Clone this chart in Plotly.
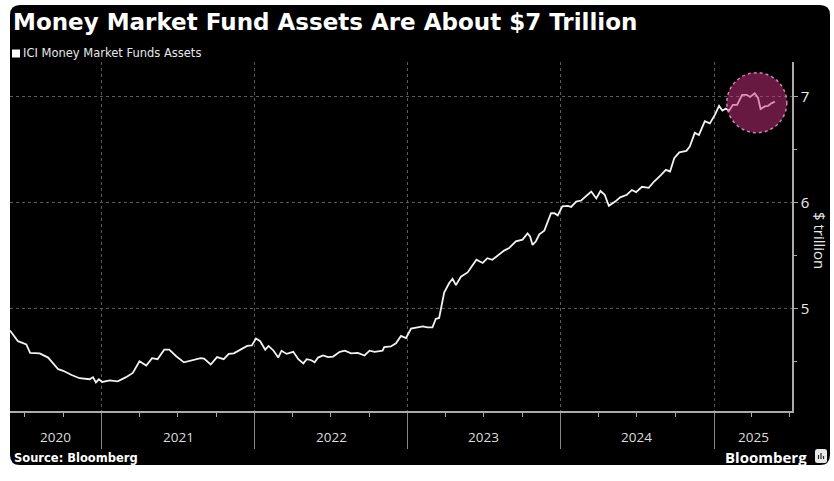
import plotly.graph_objects as go

# ---------------- data ----------------
dates = [
    "2020-05-27", "2020-06-15", "2020-07-05", "2020-07-14", "2020-08-06", "2020-08-26",
    "2020-09-19", "2020-10-01", "2020-10-21", "2020-11-09", "2020-12-03", "2020-12-11",
    "2020-12-18", "2020-12-25", "2021-01-02", "2021-01-20", "2021-02-08", "2021-02-28",
    "2021-03-16", "2021-04-01", "2021-04-17", "2021-05-01", "2021-05-14", "2021-05-30",
    "2021-06-11", "2021-06-27", "2021-07-16", "2021-08-05", "2021-08-25", "2021-09-02",
    "2021-09-18", "2021-10-03", "2021-10-19", "2021-10-31", "2021-11-12", "2021-11-28",
    "2021-12-14", "2021-12-25", "2022-01-04", "2022-01-14", "2022-01-26", "2022-02-03",
    "2022-02-15", "2022-02-26", "2022-03-06", "2022-03-18", "2022-04-03", "2022-04-15",
    "2022-04-27", "2022-05-05", "2022-05-16", "2022-05-24", "2022-06-01", "2022-06-13",
    "2022-06-25", "2022-07-07", "2022-07-23", "2022-08-04", "2022-08-19", "2022-09-04",
    "2022-09-20", "2022-10-02", "2022-10-14", "2022-11-02", "2022-11-06", "2022-11-22",
    "2022-12-04", "2022-12-16", "2022-12-28", "2023-01-09", "2023-01-25", "2023-02-06",
    "2023-02-17", "2023-03-01", "2023-03-09", "2023-03-17", "2023-03-21", "2023-03-29",
    "2023-04-10", "2023-04-18", "2023-04-26", "2023-05-08", "2023-05-24", "2023-06-05",
    "2023-06-14", "2023-06-29", "2023-07-10", "2023-07-22", "2023-08-03", "2023-08-19",
    "2023-08-31", "2023-09-16", "2023-10-02", "2023-10-14", "2023-10-20", "2023-10-26",
    "2023-11-03", "2023-11-11", "2023-11-23", "2023-12-01", "2023-12-09", "2023-12-17",
    "2023-12-25", "2024-01-05", "2024-01-18", "2024-01-26", "2024-02-07", "2024-02-19",
    "2024-03-02", "2024-03-14", "2024-03-26", "2024-04-05", "2024-04-15", "2024-04-25",
    "2024-05-10", "2024-05-22", "2024-06-07", "2024-06-19", "2024-06-29", "2024-07-13",
    "2024-07-29", "2024-08-11", "2024-08-27", "2024-09-08", "2024-09-18", "2024-09-28",
    "2024-10-10", "2024-10-27", "2024-11-04", "2024-11-16", "2024-11-26", "2024-12-10",
    "2024-12-22", "2025-01-03", "2025-01-13", "2025-01-21", "2025-01-29", "2025-02-06",
    "2025-02-15", "2025-02-25", "2025-03-09", "2025-03-20", "2025-03-28", "2025-04-08",
    "2025-04-16", "2025-04-22", "2025-05-02", "2025-05-10", "2025-05-16", "2025-05-26",
]
assets = [
    4.79, 4.69, 4.66, 4.58, 4.575, 4.535,
    4.425, 4.41, 4.37, 4.34, 4.33, 4.35,
    4.30, 4.33, 4.305, 4.32, 4.31, 4.35,
    4.39, 4.50, 4.46, 4.53, 4.52, 4.61,
    4.61, 4.55, 4.49, 4.51, 4.53, 4.525,
    4.47, 4.54, 4.52, 4.57, 4.575, 4.61,
    4.645, 4.65, 4.715, 4.69, 4.61, 4.645,
    4.60, 4.535, 4.60, 4.57, 4.59, 4.52,
    4.48, 4.52, 4.51, 4.49, 4.535, 4.555,
    4.54, 4.545, 4.59, 4.60, 4.575, 4.58,
    4.555, 4.60, 4.59, 4.60, 4.635, 4.64,
    4.67, 4.74, 4.72, 4.81, 4.82, 4.83,
    4.82, 4.82, 4.90, 4.91, 4.99, 5.15,
    5.24, 5.28, 5.22, 5.30, 5.34, 5.415,
    5.46, 5.43, 5.475, 5.46, 5.50, 5.547,
    5.57, 5.635, 5.65, 5.71, 5.68, 5.60,
    5.635, 5.70, 5.735, 5.81, 5.90, 5.90,
    5.88, 5.965, 5.97, 5.96, 6.01, 6.02,
    6.06, 6.105, 6.04, 6.11, 6.075, 5.97,
    6.01, 6.05, 6.075, 6.12, 6.10, 6.15,
    6.14, 6.20, 6.26, 6.31, 6.295, 6.42,
    6.475, 6.49, 6.53, 6.66, 6.64, 6.77,
    6.75, 6.83, 6.915, 6.87, 6.89, 6.87,
    6.925, 6.925, 7.02, 7.02, 7.00, 7.035,
    6.99, 6.885, 6.91, 6.915, 6.935, 6.955,
]
year_bounds = ["2021-01-01", "2022-01-01", "2023-01-01", "2024-01-01", "2025-01-01"]
year_labels = ["2020", "2021", "2022", "2023", "2024", "2025"]
year_label_pos = ["2020-09-12", "2021-07-02", "2022-07-02", "2023-07-02", "2024-07-01", "2025-04-04"]
y_ticks = [5, 6, 7]
x_range = ["2020-05-27", "2025-07-06"]
y_range = [4.03, 7.33]
highlight_center = ("2025-04-13", 6.945)

title = "Money Market Fund Assets Are About $7 Trillion"
series_name = "ICI Money Market Funds Assets"

# ---------------- layout helpers ----------------
W, H = 834, 481
L, R, T, B = 10, 42, 62, 70
PW, PH = W - L - R, H - T - B


def px(x):
    return (x - L) / PW


def py(y):
    return (H - B - y) / PH


def rounded_rect(xa, ya, xb, yb, r):
    x0, x1, y0, y1 = px(xa), px(xb), py(yb), py(ya)
    rx, ry = r / PW, r / PH
    return (f"M {x0+rx},{y1} L {x1-rx},{y1} Q {x1},{y1} {x1},{y1-ry} "
            f"L {x1},{y0+ry} Q {x1},{y0} {x1-rx},{y0} L {x0+rx},{y0} "
            f"Q {x0},{y0} {x0},{y0+ry} L {x0},{y1-ry} Q {x0},{y1} {x0+rx},{y1} Z")


fig = go.Figure()
fig.add_trace(go.Scatter(
    x=dates, y=assets, mode="lines", name=series_name,
    line=dict(color="#f2f2f2", width=1.8), showlegend=False,
))

shapes = [dict(type="path", path=rounded_rect(10, 5, 830, 465, 10), xref="paper", yref="paper",
               fillcolor="black", line=dict(width=0), layer="below")]

# highlight circle
shapes.append(dict(
    type="circle", xref="x", yref="y", xsizemode="pixel", ysizemode="pixel",
    xanchor=highlight_center[0], yanchor=highlight_center[1],
    x0=-30, x1=30, y0=-30, y1=30,
    fillcolor="rgba(205,50,130,0.5)",
    line=dict(color="rgba(235,150,200,0.85)", width=1.5, dash="dot"),
    layer="above",
))

# legend square
shapes.append(dict(type="rect", xref="paper", yref="paper",
                   x0=px(12), x1=px(20), y0=py(57.5), y1=py(49.5),
                   fillcolor="white", line=dict(width=0)))
# bloomberg icon
shapes.append(dict(type="path", path=rounded_rect(815, 449, 827, 463, 2.5), xref="paper", yref="paper",
                   fillcolor="#e8e8e8", line=dict(width=0)))
for bx, bh in [(818.5, 4), (821, 6), (823.5, 3)]:
    shapes.append(dict(type="rect", xref="paper", yref="paper",
                       x0=px(bx - 0.6), x1=px(bx + 0.6), y0=py(459), y1=py(459 - bh),
                       fillcolor="#222222", line=dict(width=0)))

annotations = [
    dict(text=f"<b>{title}</b>", x=px(11), y=py(22), xref="paper", yref="paper",
         xanchor="left", yanchor="middle", showarrow=False,
         font=dict(family="DejaVu Sans", size=23, color="white")),
    dict(text=series_name, x=px(21), y=py(53.5), xref="paper", yref="paper",
         xanchor="left", yanchor="middle", showarrow=False,
         font=dict(family="DejaVu Sans", size=11.5, color="#e8e8e8")),
    dict(text="<b>Source: Bloomberg</b>", x=px(12), y=py(458), xref="paper", yref="paper",
         xanchor="left", yanchor="middle", showarrow=False,
         font=dict(family="DejaVu Sans", size=11.5, color="white")),
    dict(text="<b>Bloomberg</b>", x=px(809), y=py(457), xref="paper", yref="paper",
         xanchor="right", yanchor="middle", showarrow=False,
         font=dict(family="Open Sans", size=15, color="white")),
    dict(text="$ trillion", x=px(820), y=py(240), xref="paper", yref="paper",
         xanchor="center", yanchor="middle", showarrow=False, textangle=90,
         font=dict(family="Open Sans", size=15, color="#e8e8e8")),
]
for lab, pos in zip(year_labels, year_label_pos):
    annotations.append(dict(text=lab, x=pos, y=py(436.5), xref="x", yref="paper",
                            xanchor="center", yanchor="middle", showarrow=False,
                            font=dict(family="Open Sans", size=13.5, color="#dddddd")))

fig.update_layout(
    width=W, height=H, autosize=False,
    margin=dict(l=L, r=R, t=T, b=B, pad=0),
    paper_bgcolor="white", plot_bgcolor="black",
    shapes=shapes, annotations=annotations,
    xaxis=dict(
        type="date", range=x_range, tickmode="array", tickvals=year_bounds,
        ticktext=[""] * len(year_bounds), ticks="outside", ticklen=36,
        tickcolor="#888888", tickwidth=1,
        showgrid=True, gridcolor="#5a5a5a", griddash="dot", gridwidth=1,
        showline=True, linecolor="#aaaaaa", linewidth=1.5,
        minor=dict(dtick="M3", tick0="2020-01-01", ticks="outside", ticklen=4,
                   tickcolor="#aaaaaa", showgrid=False),
        zeroline=False, fixedrange=True,
    ),
    yaxis=dict(
        side="right", range=y_range, tickmode="array", tickvals=y_ticks,
        ticks="outside", ticklen=4, tickcolor="#aaaaaa",
        showgrid=True, gridcolor="#5a5a5a", griddash="dot", gridwidth=1,
        showline=True, linecolor="#aaaaaa", linewidth=1.5,
        tickfont=dict(family="Open Sans", size=15, color="#eeeeee"),
        minor=dict(dtick=0.5, tick0=4.5, ticks="outside", ticklen=3,
                   tickcolor="#aaaaaa", showgrid=False),
        zeroline=False,
    ),
)

fig.write_html("out.html")
